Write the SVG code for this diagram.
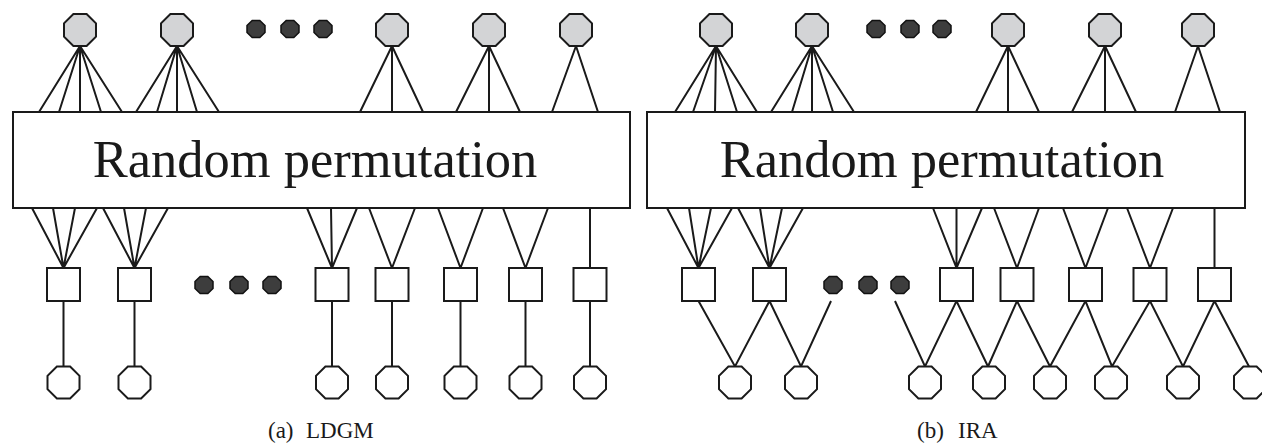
<svg xmlns="http://www.w3.org/2000/svg" xmlns:xlink="http://www.w3.org/1999/xlink" width="1262" height="444" viewBox="0 0 1262 444">
  <style>
    .edge { stroke: #1a1a1a; stroke-width: 2; fill: none; }
    .var { fill: #d3d4d6; stroke: #1a1a1a; stroke-width: 2; }
    .bit { fill: #ffffff; stroke: #1a1a1a; stroke-width: 2; }
    .chk { fill: #ffffff; stroke: #1a1a1a; stroke-width: 2; }
    .dot { fill: #3d3d3d; stroke: #111; stroke-width: 1.5; }
    .box { fill: #ffffff; stroke: #1a1a1a; stroke-width: 2; }
    .big { font-family: "Liberation Serif", "Times New Roman", serif; font-size: 52.5px; fill: #1a1a1a; text-anchor: middle; }
    .cap { font-family: "Liberation Serif", "Times New Roman", serif; font-size: 23px; fill: #1a1a1a; }
  </style>
  <defs>
    <!-- flat-topped regular octagon, apothem 16 -->
    <polygon id="oct" points="-6.6,-16 6.6,-16 16,-6.6 16,6.6 6.6,16 -6.6,16 -16,6.6 -16,-6.6"/>
    <!-- small octagonal ellipsis dot -->
    <polygon id="sdot" points="-3.8,-8.5 3.8,-8.5 9,-3.5 9,3.5 3.8,8.5 -3.8,8.5 -9,3.5 -9,-3.5"/>
    <rect id="sq" x="-16.5" y="0" width="33" height="33"/>
  </defs>

  <!-- edges -->
  <g id="connectors" class="edge">
    <!-- (a) information nodes to permutation -->
    <path d="M80,46 L39,112 M80,46 L59,112 M80,46 L80,112 M80,46 L101,112 M80,46 L122,112"/>
    <path d="M177,46 L136,112 M177,46 L157,112 M177,46 L177,112 M177,46 L197,112 M177,46 L219,112"/>
    <path d="M392,46 L360,112 M392,46 L392,112 M392,46 L423,112"/>
    <path d="M489,46 L456,112 M489,46 L489,112 M489,46 L520,112"/>
    <path d="M576,46 L552,112 M576,46 L598,112"/>
    <!-- (a) permutation to checks -->
    <path d="M32,208 L63.5,268 M53,208 L63.5,268 M75,208 L63.5,268 M97,208 L63.5,268"/>
    <path d="M103,208 L134.5,268 M124,208 L134.5,268 M146,208 L134.5,268 M168,208 L134.5,268"/>
    <path d="M307,208 L332,268 M331,208 L332,268 M357,208 L332,268"/>
    <path d="M369,208 L392,268 M415,208 L392,268"/>
    <path d="M438,208 L460.5,268 M483,208 L460.5,268"/>
    <path d="M503,208 L525.5,268 M548,208 L525.5,268"/>
    <path d="M590,208 L590,268"/>
    <!-- (a) checks to code bits -->
    <path d="M63.5,301 V366.5 M134.5,301 V366.5 M332,301 V366.5 M392,301 V366.5 M460.5,301 V366.5 M525.5,301 V366.5 M590,301 V366.5"/>

    <!-- (b) information nodes to permutation -->
    <path d="M716,46 L675,112 M716,46 L693,112 M716,46 L715,112 M716,46 L737,112 M716,46 L757,112"/>
    <path d="M812,46 L771,112 M812,46 L792,112 M812,46 L812,112 M812,46 L833,112 M812,46 L854,112"/>
    <path d="M1008,46 L976,112 M1008,46 L1008,112 M1008,46 L1039,112"/>
    <path d="M1105,46 L1072,112 M1105,46 L1105,112 M1105,46 L1136,112"/>
    <path d="M1198,46 L1175,112 M1198,46 L1220,112"/>
    <!-- (b) permutation to checks -->
    <path d="M667,208 L698.5,268 M689,208 L698.5,268 M711,208 L698.5,268 M732,208 L698.5,268"/>
    <path d="M738,208 L769.5,268 M760,208 L769.5,268 M782,208 L769.5,268 M803,208 L769.5,268"/>
    <path d="M933,208 L956.5,268 M956.5,208 L956.5,268 M982,208 L956.5,268"/>
    <path d="M994,208 L1017,268 M1039,208 L1017,268"/>
    <path d="M1063,208 L1085.5,268 M1108,208 L1085.5,268"/>
    <path d="M1127,208 L1150,268 M1173,208 L1150,268"/>
    <path d="M1214.5,208 L1214.5,268"/>
    <!-- (b) accumulator zig-zag -->
    <path d="M698.5,301 L735,366.5 L769.5,301 L801,366.5 L831,301"/>
    <path d="M895,301 L925,366.5 L956.5,301 L988,366.5 L1017,301 L1050,366.5 L1085.5,301 L1112,366.5 L1150,301 L1183,366.5 L1214.5,301 L1249,366.5"/>
  </g>

  <!-- (a) LDGM -->
  <g id="ldgm-permutation">
    <rect class="box" x="13" y="112" width="617" height="96"/>
    <text class="big" x="315" y="177">Random permutation</text>
  </g>
  <g id="ldgm-info">
    <use href="#oct" class="var" x="80" y="30"/>
    <use href="#oct" class="var" x="177" y="30"/>
    <use href="#oct" class="var" x="392" y="30"/>
    <use href="#oct" class="var" x="489" y="30"/>
    <use href="#oct" class="var" x="576" y="30"/>
  </g>
  <g id="ldgm-info-dots">
    <use href="#sdot" class="dot" x="256" y="29"/>
    <use href="#sdot" class="dot" x="290" y="29"/>
    <use href="#sdot" class="dot" x="323" y="29"/>
  </g>
  <g id="ldgm-checks">
    <use href="#sq" class="chk" x="63.5" y="268"/>
    <use href="#sq" class="chk" x="134.5" y="268"/>
    <use href="#sq" class="chk" x="332" y="268"/>
    <use href="#sq" class="chk" x="392" y="268"/>
    <use href="#sq" class="chk" x="460.5" y="268"/>
    <use href="#sq" class="chk" x="525.5" y="268"/>
    <use href="#sq" class="chk" x="590" y="268"/>
  </g>
  <g id="ldgm-check-dots">
    <use href="#sdot" class="dot" x="204" y="285"/>
    <use href="#sdot" class="dot" x="239" y="285"/>
    <use href="#sdot" class="dot" x="272" y="285"/>
  </g>
  <g id="ldgm-bits">
    <use href="#oct" class="bit" x="63.5" y="382.5"/>
    <use href="#oct" class="bit" x="134.5" y="382.5"/>
    <use href="#oct" class="bit" x="332" y="382.5"/>
    <use href="#oct" class="bit" x="392" y="382.5"/>
    <use href="#oct" class="bit" x="460.5" y="382.5"/>
    <use href="#oct" class="bit" x="525.5" y="382.5"/>
    <use href="#oct" class="bit" x="590" y="382.5"/>
  </g>
  <g id="caption-a">
    <text class="cap" y="438"><tspan x="268">(a)</tspan><tspan x="306">LDGM</tspan></text>
  </g>

  <!-- (b) IRA -->
  <g id="ira-permutation">
    <rect class="box" x="647" y="112" width="598" height="96"/>
    <text class="big" x="942" y="177">Random permutation</text>
  </g>
  <g id="ira-info">
    <use href="#oct" class="var" x="716" y="30"/>
    <use href="#oct" class="var" x="812" y="30"/>
    <use href="#oct" class="var" x="1008" y="30"/>
    <use href="#oct" class="var" x="1105" y="30"/>
    <use href="#oct" class="var" x="1198" y="30"/>
  </g>
  <g id="ira-info-dots">
    <use href="#sdot" class="dot" x="876" y="29"/>
    <use href="#sdot" class="dot" x="910" y="29"/>
    <use href="#sdot" class="dot" x="942" y="29"/>
  </g>
  <g id="ira-checks">
    <use href="#sq" class="chk" x="698.5" y="268"/>
    <use href="#sq" class="chk" x="769.5" y="268"/>
    <use href="#sq" class="chk" x="956.5" y="268"/>
    <use href="#sq" class="chk" x="1017" y="268"/>
    <use href="#sq" class="chk" x="1085.5" y="268"/>
    <use href="#sq" class="chk" x="1150" y="268"/>
    <use href="#sq" class="chk" x="1214.5" y="268"/>
  </g>
  <g id="ira-check-dots">
    <use href="#sdot" class="dot" x="833" y="285"/>
    <use href="#sdot" class="dot" x="868" y="285"/>
    <use href="#sdot" class="dot" x="900" y="285"/>
  </g>
  <g id="ira-bits">
    <use href="#oct" class="bit" x="735" y="382.5"/>
    <use href="#oct" class="bit" x="801" y="382.5"/>
    <use href="#oct" class="bit" x="925" y="382.5"/>
    <use href="#oct" class="bit" x="989" y="382.5"/>
    <use href="#oct" class="bit" x="1050" y="382.5"/>
    <use href="#oct" class="bit" x="1111" y="382.5"/>
    <use href="#oct" class="bit" x="1183" y="382.5"/>
    <use href="#oct" class="bit" x="1250" y="382.5"/>
  </g>
  <g id="caption-b">
    <text class="cap" y="438"><tspan x="917">(b)</tspan><tspan x="958">IRA</tspan></text>
  </g>
</svg>
